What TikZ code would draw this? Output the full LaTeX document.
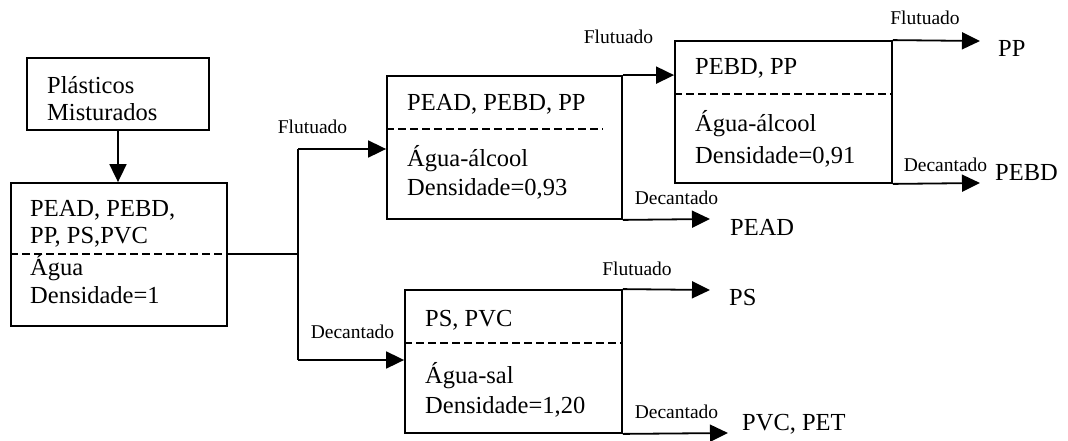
\documentclass[tikz,border=0pt]{standalone}
\usepackage{fontspec}
\setmainfont{Liberation Serif}
\usetikzlibrary{arrows.meta}
\tikzset{
  box/.style={draw, line width=1.8pt, inner sep=0pt},
  link/.style={line width=1.8pt},
  flow/.style={link, -{Triangle[length=18pt,width=17pt]}},
  divider/.style={line width=1.6pt, dash pattern=on 8pt off 4pt},
  txt/.style={anchor=base west, inner sep=0pt, font=\fontsize{24.5}{28}\selectfont},
  tag/.style={anchor=base, inner sep=0pt, font=\fontsize{19.5}{22}\selectfont},
}
\begin{document}
\begin{tikzpicture}[x=1pt,y=-1pt]
\useasboundingbox (0,0) rectangle (1068,440);

% separation stages
\node[box, minimum width=182pt, minimum height=72pt]  (feed) at (118,94) {};
\node[box, minimum width=216pt, minimum height=143pt] (mix)  at (119,254.5) {};
\node[box, minimum width=235pt, minimum height=143pt] (alc1) at (504.5,147.5) {};
\node[box, minimum width=217pt, minimum height=142pt] (alc2) at (783.5,112) {};
\node[box, minimum width=217pt, minimum height=143pt] (salt) at (513.5,361.5) {};

% dashed dividers between contents and medium
\draw[divider] (mix.west |- 0,254) -- (mix.east |- 0,254);
\draw[divider] (alc1.west |- 0,129) -- (603,129);
\draw[divider] (alc2.west |- 0,94) -- (alc2.east |- 0,94);
\draw[divider] (salt.west |- 0,343) -- (salt.east |- 0,343);

% box texts
\node[txt] (f1) at (47,93)  {Plásticos};
\node[txt] (f2) at (47,120) {Misturados};

\node[txt] (m1) at (30,216) {PEAD, PEBD,};
\node[txt] (m2) at (30,243) {PP, PS,PVC};
\node[txt] (m3) at (30,275) {Água};
\node[txt] (m4) at (30,303) {Densidade=1};

\node[txt] (a1) at (407,110) {PEAD, PEBD, PP};
\node[txt] (a2) at (407,166) {Água-álcool};
\node[txt] (a3) at (407,195) {Densidade=0,93};

\node[txt] (b1) at (695,74)  {PEBD, PP};
\node[txt] (b2) at (695,131) {Água-álcool};
\node[txt] (b3) at (695,163) {Densidade=0,91};

\node[txt] (s1) at (425,326) {PS, PVC};
\node[txt] (s2) at (425,383) {Água-sal};
\node[txt] (s3) at (425,413) {Densidade=1,20};

% products
\node[txt] (pead) at (730,235) {PEAD};
\node[txt] (ps)   at (729,305) {PS};
\node[txt] (pvc)  at (742,430) {PVC, PET};
\node[txt] (pp)   at (998,56)  {PP};
\node[txt] (pebd) at (995,180) {PEBD};

% flow labels
\node[tag] (l1) at (312.5,133.5) {Flutuado};
\node[tag] (l2) at (352.5,338.5) {Decantado};
\node[tag] (l3) at (618.5,43.5)  {Flutuado};
\node[tag] (l4) at (676.5,204.5) {Decantado};
\node[tag] (l5) at (925,24.5)    {Flutuado};
\node[tag] (l6) at (945.5,171.5) {Decantado};
\node[tag] (l7) at (637,275.5)   {Flutuado};
\node[tag] (l8) at (676.5,418.5) {Decantado};

% branching point after the water stage
\coordinate (split)  at (298,254);
\coordinate (up)     at (298,149);
\coordinate (down)   at (298,360);
\coordinate (peadtip) at (710,219);
\coordinate (pstip)   at (710,290);
\coordinate (pvctip)  at (728,433);
\coordinate (pptip)   at (980,41);
\coordinate (pebdtip) at (980,183);

% connectors
\draw[flow] (feed.south) -- (feed.south |- mix.north);
\draw[link] (mix.east |- split) -- (split);
\draw[link] (up) -- (down);
\draw[flow] (up) -- (up -| alc1.west);
\draw[flow] (down) -- (down -| salt.west);
\draw[flow] (alc1.north east) -- (alc1.north east -| alc2.west);
\draw[flow] (alc1.south east) -- (peadtip);
\draw[flow] (alc2.north east) -- (pptip);
\draw[flow] (alc2.south east) -- (pebdtip);
\draw[flow] (salt.north east) -- (pstip);
\draw[flow] (salt.south east) -- (pvctip);
\end{tikzpicture}
\end{document}
